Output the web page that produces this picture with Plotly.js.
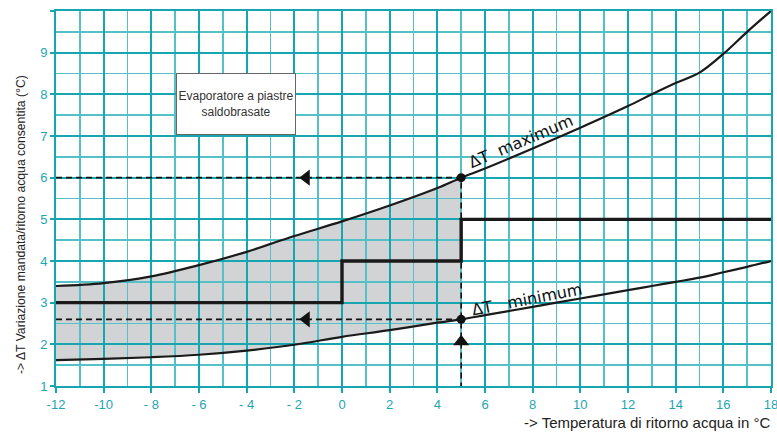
<!DOCTYPE html>
<html>
<head>
<meta charset="utf-8">
<script src="https://cdn.plot.ly/plotly-3.0.1.min.js"></script>
<style>html,body{margin:0;padding:0;background:#fff;}#chart{width:777px;height:432px;}</style>
</head>
<body>
<div id="chart"></div>
<script>
// ---- data ----
const tempX  = [-12, -10, -8, -6, -4, -2, 0, 2, 4, 5, 6, 8, 10, 12, 13, 14, 15, 16, 17, 18];
const dtMax  = [3.4, 3.47, 3.63, 3.9, 4.22, 4.6, 4.95, 5.33, 5.75, 6.0, 6.22, 6.7, 7.2, 7.72, 8.0, 8.27, 8.52, 8.97, 9.5, 10.0];
const dtMin  = [1.62, 1.65, 1.69, 1.75, 1.85, 1.99, 2.18, 2.34, 2.52, 2.6, 2.7, 2.9, 3.1, 3.3, 3.4, 3.5, 3.6, 3.73, 3.86, 4.0];
const stepX  = [-12, 0, 5, 18];
const stepY  = [3, 4, 5, 5];
const opTemp = 5;       // operating return temperature
const opMax  = 6;       // ΔT maximum at that temperature
const opMin  = 2.6;     // ΔT minimum at that temperature
const arrowLeftX = [-1.5, -1.5];
const arrowLeftY = [opMax, opMin];
const arrowUpX = [opTemp];
const arrowUpY = [2.06];
const xTickVals = [-12, -10, -8, -6, -4, -2, 0, 2, 4, 6, 8, 10, 12, 14, 16, 18];
const xTickText = ["-12", "-10", "- 8", "- 6", "- 4", "- 2", "0", "2", "4", "6", "8", "10", "12", "14", "16", "18"];
const yTickVals = [1, 2, 3, 4, 5, 6, 7, 8, 9, 10];
const yTickText = ["1", "2", "3", "4", "5", "6", "7", "8", "9", ""];
const labelBox = "Evaporatore a piastre<br>saldobrasate";
const labelMax = "ΔT  maximum";
const labelMin = "ΔT   minimum";
const xTitle = "-> Temperatura di ritorno acqua in °C";
const yTitle = "-> ΔT Variazione mandata/ritorno acqua consentita (°C)";

// ---- styling ----
const TEAL = "rgb(22,166,177)";
const TEAL_MINOR = "rgb(84,193,201)";
const TICKCOL = "rgb(30,165,176)";

const fillX = [], fillMin = [], fillMax = [];
tempX.forEach((x, i) => { if (x <= opTemp) { fillX.push(x); fillMin.push(dtMin[i]); fillMax.push(dtMax[i]); } });

const traces = [
  // filled band (bottom subplot, under the grid)
  {x: fillX, y: fillMin, xaxis: 'x', yaxis: 'y', mode: 'lines', line: {width: 0, shape: 'spline'}, hoverinfo: 'skip', showlegend: false},
  {x: fillX, y: fillMax, xaxis: 'x', yaxis: 'y', mode: 'lines', line: {width: 0, shape: 'spline'}, fill: 'tonexty', fillcolor: '#d2d3d5', hoverinfo: 'skip', showlegend: false},
  // dashed guide lines
  {x: [tempX[0], opTemp, opTemp], y: [opMax, opMax, 1], xaxis: 'x2', yaxis: 'y2', mode: 'lines', line: {color: '#111', width: 1.6, dash: '6px,4px'}, showlegend: false},
  {x: [tempX[0], opTemp], y: [opMin, opMin], xaxis: 'x2', yaxis: 'y2', mode: 'lines', line: {color: '#111', width: 1.6, dash: '6px,4px'}, showlegend: false},
  // curves
  {x: tempX, y: dtMax, xaxis: 'x2', yaxis: 'y2', mode: 'lines', line: {color: '#1a1a1a', width: 2.2, shape: 'spline'}, showlegend: false},
  {x: tempX, y: dtMin, xaxis: 'x2', yaxis: 'y2', mode: 'lines', line: {color: '#1a1a1a', width: 2.2, shape: 'spline'}, showlegend: false},
  // step line
  {x: stepX, y: stepY, xaxis: 'x2', yaxis: 'y2', mode: 'lines', line: {color: '#1a1a1a', width: 3.4, shape: 'hv'}, showlegend: false},
  // dots
  {x: [opTemp, opTemp], y: [opMax, opMin], xaxis: 'x2', yaxis: 'y2', mode: 'markers', marker: {color: '#111', size: 9}, showlegend: false},
  // arrows
  {x: arrowLeftX, y: arrowLeftY, xaxis: 'x2', yaxis: 'y2', mode: 'markers', marker: {color: '#111', size: 14, symbol: 'triangle-left'}, showlegend: false},
  {x: arrowUpX, y: arrowUpY, xaxis: 'x2', yaxis: 'y2', mode: 'markers', marker: {color: '#111', size: 14, symbol: 'triangle-up'}, showlegend: false}
];

const hiddenAxis = {showgrid: false, zeroline: false, showticklabels: false, showline: false, ticks: ''};

const layout = {
  width: 777, height: 432,
  margin: {l: 56, r: 6, t: 11, b: 46},
  paper_bgcolor: '#fff', plot_bgcolor: 'rgba(0,0,0,0)',
  showlegend: false,
  font: {family: 'Liberation Sans, Arial, sans-serif'},
  xaxis: Object.assign({}, hiddenAxis, {range: [-12, 18], domain: [0, 1], anchor: 'y'}),
  yaxis: Object.assign({}, hiddenAxis, {range: [1, 10], domain: [0, 1], anchor: 'x'}),
  xaxis2: {
    range: [-12, 18], domain: [0, 1], anchor: 'y2',
    tickmode: 'array', tickvals: xTickVals, ticktext: xTickText,
    showgrid: true, gridcolor: TEAL, gridwidth: 2,
    minor: {tickmode: 'linear', tick0: -12, dtick: 1, showgrid: true, gridcolor: TEAL_MINOR, gridwidth: 1.6, ticks: ''},
    zeroline: false,
    showline: true, linecolor: TEAL, linewidth: 2, mirror: true,
    ticks: 'outside', ticklen: 5, tickcolor: TEAL, tickwidth: 2,
    ticklabeloverflow: 'allow',
    tickfont: {size: 13, color: TICKCOL}
  },
  yaxis2: {
    range: [1, 10], domain: [0, 1], anchor: 'x2',
    tickmode: 'array', tickvals: yTickVals, ticktext: yTickText,
    showgrid: true, gridcolor: TEAL, gridwidth: 2,
    minor: {tickmode: 'linear', tick0: 1, dtick: 0.5, showgrid: true, gridcolor: TEAL_MINOR, gridwidth: 1.6, ticks: ''},
    zeroline: false,
    showline: true, linecolor: TEAL, linewidth: 2, mirror: true,
    ticks: 'outside', ticklen: 4, tickcolor: TEAL, tickwidth: 2,
    tickfont: {size: 13, color: TICKCOL}
  },
  annotations: [
    {xref: 'x2', yref: 'y2', x: -4.46, y: 7.78, text: labelBox, showarrow: false,
     font: {size: 12, color: '#333', family: 'Liberation Sans, Arial, sans-serif'},
     bgcolor: '#fff', bordercolor: '#666', borderwidth: 1, width: 116, height: 58, align: 'center'},
    {xref: 'x2', yref: 'y2', x: 7.5, y: 6.88, text: labelMax, showarrow: false, textangle: -23,
     font: {size: 16, color: '#111', family: 'DejaVu Sans, sans-serif'}},
    {xref: 'x2', yref: 'y2', x: 7.75, y: 3.08, text: labelMin, showarrow: false, textangle: -11,
     font: {size: 16, color: '#111', family: 'DejaVu Sans, sans-serif'}},
    {xref: 'paper', yref: 'paper', x: 1.002, xanchor: 'right', y: -0.098, yanchor: 'middle', text: xTitle, showarrow: false,
     font: {size: 15, color: '#222'}},
    {xref: 'paper', yref: 'paper', x: -0.05, xanchor: 'center', y: 0.43, yanchor: 'middle', text: yTitle, showarrow: false, textangle: -90,
     font: {size: 12.2, color: '#222'}}
  ]
};

Plotly.newPlot('chart', traces, layout, {staticPlot: true, displayModeBar: false});
</script>
</body>
</html>
